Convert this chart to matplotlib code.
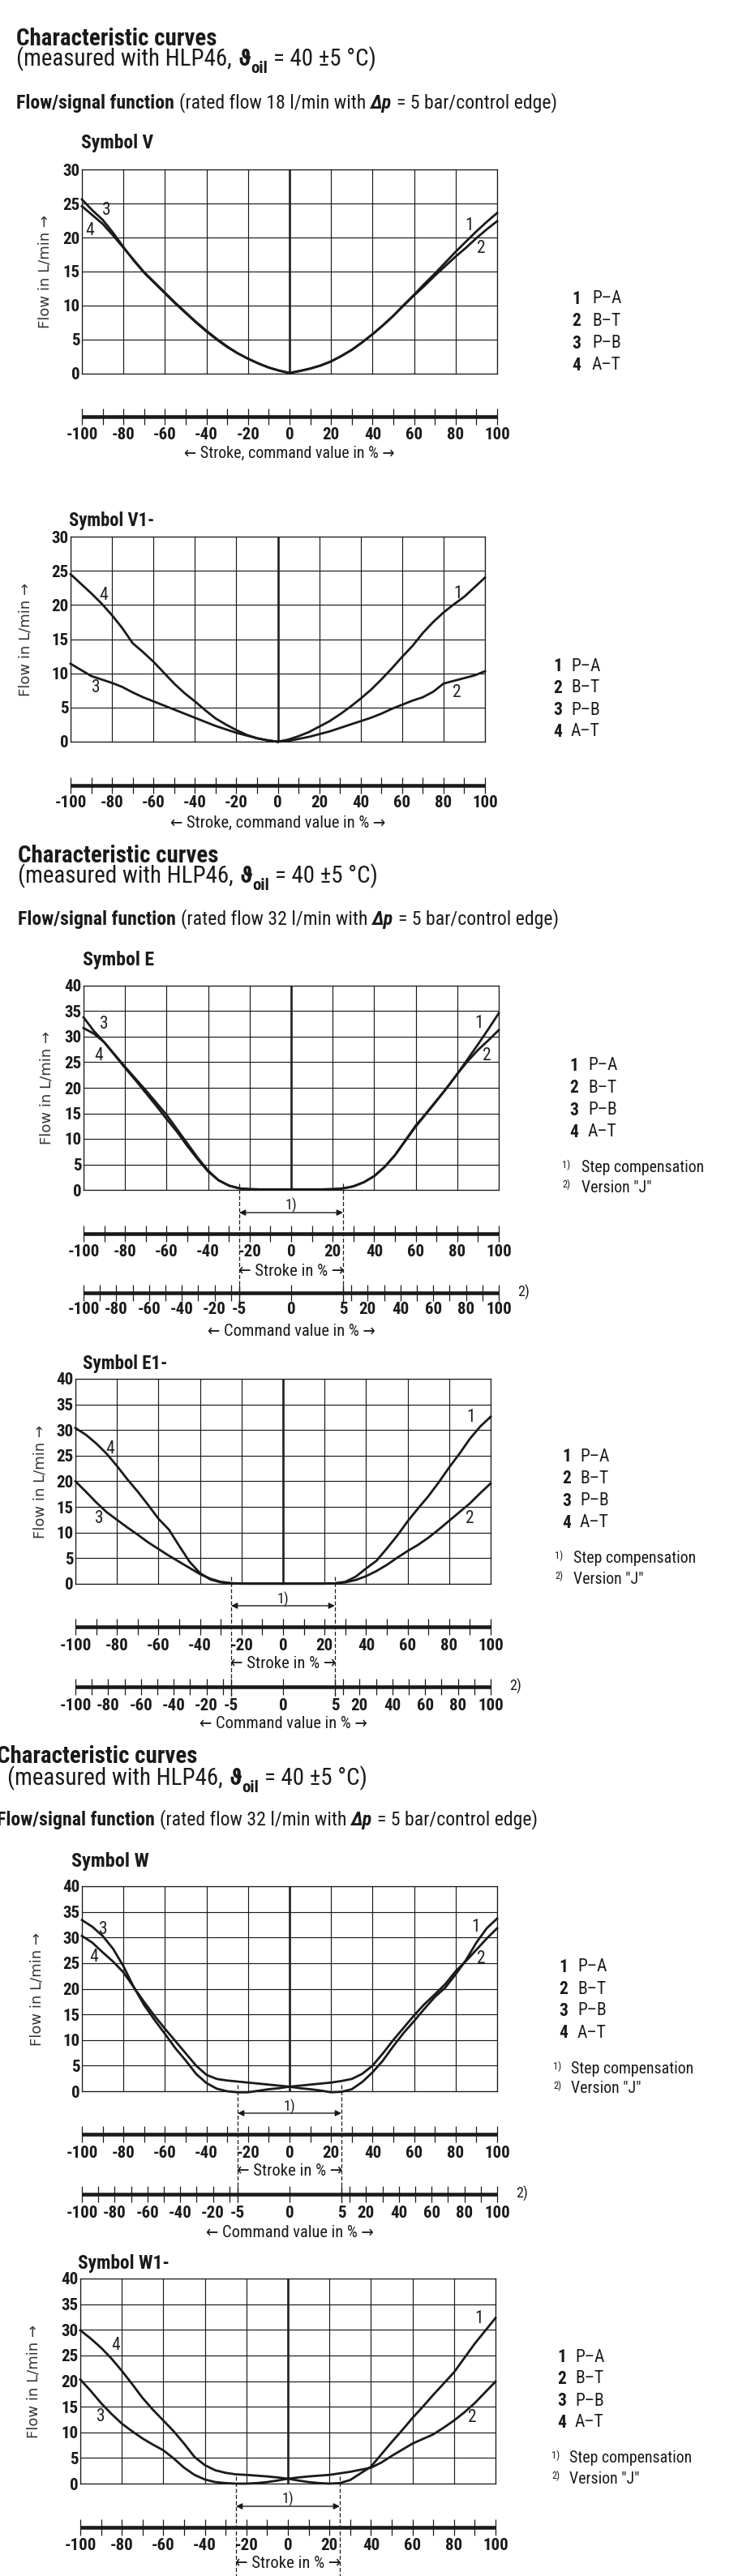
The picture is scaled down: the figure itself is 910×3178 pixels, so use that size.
import numpy as np
import matplotlib
matplotlib.use("Agg")
import matplotlib.pyplot as plt
from matplotlib import font_manager
from matplotlib.lines import Line2D
from matplotlib.transforms import blended_transform_factory as blend

# ---- curve data (flow in l/min over stroke in %) ----
stroke_neg = [-100, -95, -90, -85, -80, -75, -70, -65, -60, -55, -50,
              -45, -40, -35, -30, -25, -20, -15, -10, -5, 0]
stroke_pos = [0, 5, 10, 15, 20, 25, 30, 35, 40, 45, 50,
              55, 60, 65, 70, 75, 80, 85, 90, 95, 100]

# Symbol V
v_pa = [0.1, 0.4, 0.75, 1.2, 1.8, 2.6, 3.5, 4.6, 5.8, 7.1, 8.5, 10.1, 11.6, 13.2, 14.7, 16.3, 17.9, 19.4, 20.9, 22.3, 23.6]
v_bt = [0.1, 0.4, 0.75, 1.2, 1.8, 2.6, 3.5, 4.6, 5.8, 7.1, 8.5, 10.0, 11.5, 12.9, 14.4, 15.8, 17.2, 18.5, 19.9, 21.2, 22.4]
v_pb = [25.6, 24.0, 22.6, 20.7, 18.6, 16.6, 14.8, 13.3, 11.8, 10.3, 8.9, 7.5, 6.2, 5.0, 3.9, 3.0, 2.2, 1.5, 0.9, 0.45, 0.1]
v_at = [24.6, 23.3, 22.0, 20.3, 18.5, 16.7, 14.9, 13.4, 11.9, 10.4, 9.0, 7.6, 6.3, 5.1, 4.0, 3.0, 2.2, 1.5, 0.9, 0.45, 0.1]

# Symbol V1-
v1_pa = [0.0, 0.3, 0.8, 1.4, 2.2, 3.0, 4.0, 5.1, 6.3, 7.6, 9.1, 10.7, 12.4, 14.0, 15.9, 17.5, 18.9, 20.1, 21.2, 22.6, 24.0]
v1_bt = [0.0, 0.1, 0.4, 0.7, 1.1, 1.5, 2.0, 2.5, 3.0, 3.5, 4.1, 4.8, 5.4, 6.0, 6.5, 7.3, 8.5, 8.9, 9.3, 9.7, 10.3]
v1_pb = [11.4, 10.5, 9.6, 9.1, 8.6, 8.0, 7.2, 6.5, 5.9, 5.3, 4.7, 4.1, 3.5, 2.9, 2.3, 1.8, 1.3, 0.9, 0.5, 0.2, 0.0]
v1_at = [24.5, 23.1, 21.7, 20.2, 18.5, 16.6, 14.4, 13.1, 11.7, 10.1, 8.5, 7.1, 5.9, 4.6, 3.4, 2.5, 1.7, 1.0, 0.5, 0.2, 0.0]

# Symbol E
e_pa = [0.1, 0.1, 0.1, 0.1, 0.15, 0.3, 0.7, 1.5, 2.7, 4.5, 6.8, 9.7, 12.6, 15.0, 17.5, 20.0, 22.7, 25.6, 28.5, 31.5, 34.6]
e_bt = [0.1, 0.1, 0.1, 0.1, 0.15, 0.3, 0.7, 1.5, 2.7, 4.5, 6.8, 9.6, 12.4, 14.9, 17.4, 20.0, 22.7, 25.2, 27.4, 29.3, 31.3]
e_pb = [33.8, 31.1, 28.9, 26.4, 23.9, 21.5, 19.0, 16.5, 13.9, 11.4, 8.6, 6.0, 3.6, 1.9, 0.85, 0.3, 0.15, 0.1, 0.1, 0.1, 0.1]
e_at = [31.7, 30.6, 28.9, 26.5, 24.1, 21.8, 19.5, 17.1, 14.7, 11.9, 9.1, 6.3, 3.8, 1.9, 0.85, 0.3, 0.15, 0.1, 0.1, 0.1, 0.1]

# Symbol E1-
e1_pa = [0.05, 0.05, 0.05, 0.05, 0.05, 0.1, 0.4, 1.4, 3.0, 4.5, 6.9, 9.4, 12.2, 14.7, 17.1, 19.8, 22.7, 25.4, 28.3, 30.7, 32.6]
e1_bt = [0.05, 0.05, 0.05, 0.05, 0.05, 0.1, 0.3, 0.75, 1.5, 2.5, 3.7, 5.1, 6.4, 7.6, 9.0, 10.6, 12.3, 14.0, 15.7, 17.7, 19.6]
e1_pb = [20.0, 18.0, 15.9, 14.0, 12.5, 11.0, 9.6, 8.1, 6.8, 5.5, 4.3, 3.1, 1.9, 1.0, 0.4, 0.15, 0.05, 0.05, 0.05, 0.05, 0.05]
e1_at = [30.4, 29.1, 27.4, 25.4, 23.0, 20.4, 18.0, 15.4, 12.7, 10.6, 7.4, 4.3, 2.1, 0.85, 0.3, 0.1, 0.05, 0.05, 0.05, 0.05, 0.05]

# Symbol W
w_pa = [0.9, 0.6, 0.4, 0.15, -0.2, -0.1, 0.4, 1.8, 3.7, 6.0, 8.8, 11.4, 13.7, 16.1, 18.4, 20.2, 22.8, 25.6, 29.0, 31.8, 33.7]
w_bt = [0.9, 1.1, 1.3, 1.5, 1.7, 2.0, 2.4, 3.4, 5.0, 7.4, 10.0, 12.4, 14.8, 17.0, 18.9, 20.9, 23.4, 25.4, 27.6, 29.8, 31.8]
w_pb = [33.4, 32.1, 30.3, 27.8, 24.4, 20.3, 16.8, 13.9, 11.2, 8.4, 6.0, 3.4, 1.6, 0.5, 0.0, -0.2, -0.2, 0.1, 0.4, 0.6, 0.9]
w_at = [30.3, 29.0, 27.1, 25.3, 23.2, 20.3, 17.4, 14.7, 12.2, 9.8, 7.4, 5.0, 3.2, 2.4, 2.1, 1.9, 1.7, 1.5, 1.3, 1.1, 0.9]

# Symbol W1-
w1_pa = [0.95, 0.6, 0.3, 0.1, 0.0, 0.1, 0.7, 2.0, 3.3, 5.7, 8.1, 10.4, 12.8, 15.0, 17.3, 19.5, 21.7, 24.5, 27.3, 29.8, 32.3]
w1_bt = [0.95, 1.2, 1.4, 1.55, 1.7, 2.0, 2.3, 2.7, 3.1, 4.1, 5.4, 6.6, 7.8, 8.7, 9.6, 10.9, 12.3, 13.9, 15.7, 17.8, 19.9]
w1_pb = [20.3, 18.1, 15.7, 13.6, 11.7, 10.2, 8.8, 7.6, 6.5, 4.9, 3.1, 1.7, 0.8, 0.3, 0.1, 0.0, 0.0, 0.1, 0.3, 0.6, 0.95]
w1_at = [29.9, 28.3, 26.5, 24.4, 22.0, 19.4, 16.7, 14.4, 12.3, 10.2, 7.8, 5.2, 3.6, 2.6, 2.1, 1.8, 1.7, 1.55, 1.4, 1.2, 0.95]

legend_codes = ["1", "2", "3", "4"]
legend_names = ["P\u2013A", "B\u2013T", "P\u2013B", "A\u2013T"]
stroke_ticks = [-100, -90, -80, -70, -60, -50, -40, -30, -20, -10, 0,
                10, 20, 30, 40, 50, 60, 70, 80, 90, 100]
stroke_labels = [-100, -80, -60, -40, -20, 0, 20, 40, 60, 80, 100]
cmd_ticks = [-100, -90, -80, -70, -60, -50, -40, -30, -20, -10, -5, 0,
             5, 10, 20, 30, 40, 50, 60, 70, 80, 90, 100]
cmd_labels = [-100, -80, -60, -40, -20, -5, 0, 5, 20, 40, 60, 80, 100]
rated_flow = [18, 32, 32]

# ---- fonts: prefer a narrow / condensed sans if one is installed ----
NARROW, STRETCH = "Liberation Sans", "normal"
found = {}
for f in font_manager.fontManager.ttflist:
    st = str(f.stretch).lower()
    if "Narrow" in f.name or "Condensed" in f.name or st in ("condensed", "semi-condensed"):
        found.setdefault(f.name, st if st in ("condensed", "semi-condensed") else "normal")
for pref in ["Liberation Sans Narrow", "Roboto Condensed", "Noto Sans", "Open Sans", "Noto Sans Condensed",
             "Open Sans Condensed", "DejaVu Sans Condensed", "DejaVu Sans"]:
    if pref in found:
        NARROW, STRETCH = pref, found[pref]
        break
K = 1.0 if NARROW != "Liberation Sans" else 0.9
FAM = [NARROW, "DejaVu Sans"]
INK = "#1a1a1a"
PX = 100 / 72

fig = plt.figure(figsize=(9.10, 31.78), dpi=100)
fig.patch.set_facecolor("white")
R = fig.canvas.get_renderer()


def fx(x):
    return x / 910


def fy(y):
    return 1 - y / 3178


def put(x, y, s, size, ha="left", va="center", **kw):
    kw.setdefault("family", FAM)
    kw.setdefault("color", INK)
    kw.setdefault("fontstretch", STRETCH)
    return fig.text(fx(x), fy(y), s, fontsize=size, ha=ha, va=va, **kw)


def fit(x, y, s, width, ha="left", **kw):
    t = put(x, y, s, 10, ha=ha, **kw)
    t.set_fontsize(10 * width / t.get_window_extent(R).width)
    return t


def runs(x, y, parts, width):
    # parts: text, weight, style, relative size, drop (em), gap before (em)
    def build(size):
        arts, cx = [], x
        base = y + 0.36 * size * PX
        for s, wt, st, rel, drop, gap in parts:
            cx += gap * size * PX
            t = fig.text(fx(cx), fy(base + drop * size * PX), s, fontsize=size * rel,
                         fontweight=wt, fontstyle=st, family=FAM, fontstretch=STRETCH,
                         color=INK, va="baseline")
            cx += t.get_window_extent(R).width
            arts.append(t)
        return arts, cx - x
    arts, w = build(10)
    for a in arts:
        a.remove()
    build(10 * width / w)


def cmd_fwd(c):
    c = np.asarray(c, float)
    return np.where(np.abs(c) <= 5, c * 5, np.sign(c) * (25 + (np.abs(c) - 5) * 75 / 95))


def cmd_inv(s):
    s = np.asarray(s, float)
    return np.where(np.abs(s) <= 25, s / 5, np.sign(s) * (5 + (np.abs(s) - 25) * 95 / 75))


# size of the footnote text
_t = put(0, 0, "Step compensation", 10)
NOTE = 10 * 150 / _t.get_window_extent(R).width
_t.remove()

TICK = 15 * K      # tick numbers
LEG = 15.5 * K     # legend entries
TAG = 15.5 * K     # curve numbers

# ---- section headers ----
headers = [(20, 46, 71, 125, 20), (22, 1054, 1079, 1132, 22), (-4, 2165, 2192, 2243, 9)]
for (hx, ty, my, fy_, mx), q in zip(headers, rated_flow):
    runs(hx, ty, [("Characteristic curves", "bold", "normal", 1, 0, 0)], 247)
    runs(mx, my, [("(measured with HLP46,", "normal", "normal", 1, 0, 0),
                  ("\u03d1", "bold", "normal", 1, 0, 0.25),
                  ("oil", "bold", "normal", 0.72, 0.28, 0.02),
                  ("= 40 \u00b15 \u00b0C)", "normal", "normal", 1, 0, 0.25)], 443)
    runs(hx, fy_, [("Flow/signal function", "bold", "normal", 1, 0, 0),
                   ("(rated flow %d l/min with" % q, "normal", "normal", 1, 0, 0.25),
                   ("\u0394p", "bold", "italic", 1, 0, 0.25),
                   ("= 5 bar/control edge)", "normal", "normal", 1, 0, 0.25)], 664)

# ---- panel layout (pixel positions) ----
panels = [
    dict(symbol="Symbol V", sym=(100, 177, 89), box=(101, 209, 613, 461), ymax=30,
         curves=[(stroke_pos, v_pa), (stroke_pos, v_bt), (stroke_neg, v_pb), (stroke_neg, v_at)],
         tags=[(86.5, 21.7), (92.3, 18.4), (-88.3, 24.0), (-96.4, 21.0)],
         ylab=56, legend=(705, 730, 369, 27.3), notes=None,
         bar=(514, 537, "\u2190 Stroke, command value in % \u2192", 559, 259),
         cmd=None, dash=None, step=None),
    dict(symbol="Symbol V1-", sym=(85, 642, 106), box=(87, 662, 598, 915), ymax=30,
         curves=[(stroke_pos, v1_pa), (stroke_pos, v1_bt), (stroke_neg, v1_pb), (stroke_neg, v1_at)],
         tags=[(86.8, 21.6), (86.4, 7.2), (-87.6, 7.9), (-84.0, 21.4)],
         ylab=32, legend=(682, 704, 822, 27), notes=None,
         bar=(969, 990, "\u2190 Stroke, command value in % \u2192", 1015, 264),
         cmd=None, dash=None, step=None),
    dict(symbol="Symbol E", sym=(102, 1185, 88), box=(103, 1216, 615, 1468), ymax=40,
         curves=[(stroke_pos, e_pa), (stroke_pos, e_bt), (stroke_neg, e_pb), (stroke_neg, e_at)],
         tags=[(90.3, 32.6), (94.2, 26.3), (-90.0, 32.4), (-92.6, 26.2)],
         ylab=58, legend=(702, 725, 1315, 27.3), notes=(693, 717, 1441, 1465),
         bar=(1522, 1544, "\u2190 Stroke in % \u2192", 1568, 130),
         cmd=(1595, 1615, 1643, 638), dash=(1460, 1606), step=(1487, 1496)),
    dict(symbol="Symbol E1-", sym=(102, 1682, 105), box=(93, 1701, 605, 1954), ymax=40,
         curves=[(stroke_pos, e1_pa), (stroke_pos, e1_bt), (stroke_neg, e1_pb), (stroke_neg, e1_at)],
         tags=[(90.3, 32.5), (90.0, 12.7), (-88.5, 12.7), (-83.3, 26.3)],
         ylab=49, legend=(693, 715, 1797, 27.3), notes=(684, 707, 1923, 1948),
         bar=(2007, 2030, "\u2190 Stroke in % \u2192", 2053, 130),
         cmd=(2081, 2104, 2126, 628), dash=(1945, 2097), step=(1973, 1981)),
    dict(symbol="Symbol W", sym=(88, 2297, 96), box=(101, 2327, 613, 2580), ymax=40,
         curves=[(stroke_pos, w_pa), (stroke_pos, w_bt), (stroke_neg, w_pb), (stroke_neg, w_at)],
         tags=[(89.6, 32.0), (92.5, 25.9), (-89.6, 31.6), (-94.4, 26.2)],
         ylab=45, legend=(689, 712, 2427, 27), notes=(682, 704, 2553, 2577),
         bar=(2633, 2656, "\u2190 Stroke in % \u2192", 2678, 130),
         cmd=(2707, 2730, 2755, 636), dash=(2572, 2717), step=(2599, 2607)),
    dict(symbol="Symbol W1-", sym=(96, 2792, 113), box=(99, 2811, 611, 3064), ymax=40,
         curves=[(stroke_pos, w1_pa), (stroke_pos, w1_bt), (stroke_neg, w1_pb), (stroke_neg, w1_at)],
         tags=[(92.2, 32.1), (88.8, 12.9), (-90.0, 13.1), (-83.0, 26.9)],
         ylab=42, legend=(687, 709, 2908, 27), notes=(680, 702, 3033, 3058),
         bar=(3118, 3140, "\u2190 Stroke in % \u2192", 3163, 130),
         cmd=None, dash=(3055, 3180), step=(3083, 3092)),
]


def scale_bar(l, r, y, label_y, ticks, labels, cmd=False):
    ax = fig.add_axes([fx(l), fy(y + 15), fx(r - l), 30 / 3178])
    if cmd:
        ax.set_xscale("function", functions=(cmd_fwd, cmd_inv))
    ax.set_xlim(-100, 100)
    ax.set_ylim(-15, 15)
    ax.axis("off")
    ax.plot([-100, 100], [0, 0], color=INK, lw=3.3, solid_capstyle="butt", clip_on=False)
    ax.vlines(ticks, -10, 10, color=INK, lw=0.9, clip_on=False)
    tr = blend(ax.transData, fig.transFigure)
    for v in labels:
        ax.text(v, fy(label_y), str(v), transform=tr, ha="center", va="center",
                fontsize=TICK, fontweight="bold", family=FAM, fontstretch=STRETCH, color=INK)
    return ax


for p in panels:
    l, t, r, b = p["box"]
    ax = fig.add_axes([fx(l), fy(b), fx(r - l), (b - t) / 3178])
    ax.set_xlim(-100, 100)
    ax.set_ylim(0, p["ymax"])
    ax.set_xticks(stroke_labels)
    yt = list(range(0, p["ymax"] + 1, 5))
    ax.set_yticks(yt, [str(v) for v in yt], fontsize=TICK, fontweight="bold", family=FAM,
                  fontstretch=STRETCH, color=INK)
    ax.tick_params(axis="x", length=0, labelbottom=False)
    ax.tick_params(axis="y", length=0, pad=2)
    ax.set_axisbelow(True)
    ax.grid(True, color=INK, lw=0.85)
    for s in ax.spines.values():
        s.set_color(INK)
        s.set_linewidth(0.9)
    ax.axvline(0, color="#222222", lw=1.9, zorder=1.5)
    for xs, ys in p["curves"]:
        ax.plot(xs, ys, color=INK, lw=2.0, clip_on=False, solid_joinstyle="round")
    for code, (tx, ty) in zip(legend_codes, p["tags"]):
        ax.text(tx, ty, code, ha="center", va="center", fontsize=TAG, family=FAM,
                fontstretch=STRETCH, color="#222222")

    # title and axis label
    sx, sy, sw = p["sym"]
    fit(sx, sy, p["symbol"], sw, fontweight="bold")
    put(p["ylab"], (t + b) / 2, "Flow in L/min \u2192", 13, ha="center",
        rotation=90, family=["DejaVu Sans"], fontstretch="normal", color="#333333")

    # legend and notes
    nx, lx, ly, dy = p["legend"]
    for i, (code, name) in enumerate(zip(legend_codes, legend_names)):
        put(nx, ly + i * dy, code, LEG, fontweight="bold")
        put(lx, ly + i * dy, name, LEG)
    if p["notes"]:
        mx, tx, y1, y2 = p["notes"]
        for yy, mark, s in [(y1, "1)", "Step compensation"), (y2, "2)", "Version \"J\"")]:
            put(mx, yy - 4, mark, 9 * K)
            put(tx, yy, s, NOTE)

    # stroke scale
    by, bly, btxt, bty, btw = p["bar"]
    scale_bar(l, r, by, bly, stroke_ticks, stroke_labels)
    fit((l + r) / 2, bty, btxt, btw, ha="center")

    # command value scale (version "J")
    if p["cmd"]:
        cy, cly, cty, mx2 = p["cmd"]
        scale_bar(l, r, cy, cly, cmd_ticks, cmd_labels, cmd=True)
        fit((l + r) / 2, cty, "\u2190 Command value in % \u2192", 206, ha="center")
        put(mx2, cy - 1, "2)", 13 * K)

    # step compensation markers
    tr = blend(ax.transData, fig.transFigure)
    if p["dash"]:
        y0, y1 = p["dash"]
        for xv in (-25, 25):
            fig.add_artist(Line2D([xv, xv], [fy(y0), fy(y1)], transform=tr, color=INK,
                                  lw=0.9, ls=(0, (4, 2))))
    if p["step"]:
        ly1, ay = p["step"]
        ax.annotate("", xy=(-25, fy(ay)), xytext=(25, fy(ay)), xycoords=tr, textcoords=tr,
                    annotation_clip=False,
                    arrowprops=dict(arrowstyle="<|-|>", color=INK, lw=1.0,
                                    mutation_scale=11, shrinkA=0, shrinkB=0))
        ax.text(0, fy(ly1), "1)", transform=tr, ha="center", va="center",
                fontsize=13 * K, family=FAM, fontstretch=STRETCH, color=INK)

fig.savefig("out.png", dpi=100, facecolor="white")
